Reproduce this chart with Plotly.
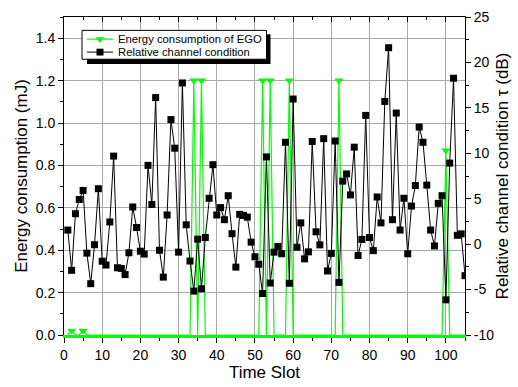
import plotly.graph_objects as go

# ---------------- data ----------------
slots = list(range(1, 106))

# Energy consumption of EGO (mJ), left axis
energy = [
    0, 0.02, 0, 0, 0.02, 0, 0, 0, 0, 0,            # 1-10
    0, 0, 0, 0, 0, 0, 0, 0, 0, 0,                  # 11-20
    0, 0, 0, 0, 0, 0, 0, 0, 0, 0,                  # 21-30
    0, 0, 0, 1.2, 0, 1.2, 0, 0, 0, 0,              # 31-40
    0, 0, 0, 0, 0, 0, 0, 0, 0, 0,                  # 41-50
    0, 1.2, 0, 1.2, 0, 0, 0, 0, 1.2, 0,            # 51-60
    0, 0, 0, 0, 0, 0, 0, 0, 0, 0,                  # 61-70
    0, 1.2, 0, 0, 0, 0, 0, 0, 0, 0,                # 71-80
    0, 0, 0, 0, 0, 0, 0, 0, 0, 0,                  # 81-90
    0, 0, 0, 0, 0, 0, 0, 0, 0, 0.87,               # 91-100
    0, 0, 0, 0, 0,                                 # 101-105
]
# slots where the EGO series shows its triangle markers
energy_marker_slots = [2, 5, 34, 36, 52, 54, 59, 72, 100]

# Relative channel condition tau (dB), right axis
channel_db = [
    1.55, -2.88, 3.35, 4.91, 5.91, -0.99, -4.35, -0.06, 6.10, -1.88,     # 1-10
    -2.30, 2.44, 9.69, -2.60, -2.67, -3.35, -0.95, 4.09, 1.83, -0.78,    # 11-20
    -1.09, 8.67, 4.37, 16.13, -0.67, -3.63, 3.21, 13.71, 10.56, -0.88,   # 21-30
    17.74, 2.13, -1.86, -5.17, 0.55, -4.91, 0.73, 5.05, 8.74, 3.21,      # 31-40
    4.02, 2.69, 5.33, 1.15, -2.53, 3.28, 3.16, 2.97, 0.22, -1.39,        # 41-50
    -2.21, -5.43, 9.60, -4.28, -0.88, -0.25, -1.06, 11.21, -4.31, 15.97, # 51-60
    -0.34, 2.34, -1.62, -0.85, 11.30, 1.36, -0.08, 11.61, -2.95, -1.02,  # 61-70
    11.35, -4.21, 6.94, 7.73, 5.42, 10.67, -1.25, 0.52, 14.17, 0.73,     # 71-80
    -0.71, 5.19, 2.34, 15.71, 21.62, 2.69, 14.43, 1.55, 5.05, -1.06,     # 81-90
    4.19, 6.45, 12.89, 11.21, 6.50, 1.55, -0.20, 4.49, 5.33, -6.13,      # 91-100
    8.92, 18.26, 0.97, 1.13, -3.47,                                      # 101-105
]

x_ticks = [0, 10, 20, 30, 40, 50, 60, 70, 80, 90, 100]
left_ticks = [0.0, 0.2, 0.4, 0.6, 0.8, 1.0, 1.2, 1.4]
left_tick_labels = ["0.0", "0.2", "0.4", "0.6", "0.8", "1.0", "1.2", "1.4"]
right_ticks = [-10, -5, 0, 5, 10, 15, 20, 25]
right_tick_labels = ["-10", "-5", "0", "5", "10", "15", "20", "25"]

legend_energy = "Energy consumption of EGO"
legend_channel = "Relative channel condition"

# ---------------- style ----------------
GREEN = "#00ff00"
FONT = "Liberation Sans, Arial, sans-serif"
W, H = 518, 387
ML, MR, MT, MB = 64, 53, 9, 52
PW, PH = W - ML - MR, H - MT - MB
TRI_SIZE = 8
SQ_SIZE = 7

def px2paper(px, py):
    return (px - ML) / PW, (H - MB - py) / PH

energy_by_slot = dict(zip(slots, energy))
marker_y = [energy_by_slot[s] for s in energy_marker_slots]

fig = go.Figure()

# EGO energy line
fig.add_trace(go.Scatter(
    x=slots, y=energy, mode="lines", yaxis="y",
    line=dict(color=GREEN, width=1.2), showlegend=False, hoverinfo="skip"))
# EGO markers
fig.add_trace(go.Scatter(
    x=energy_marker_slots, y=marker_y, mode="markers", yaxis="y",
    marker=dict(symbol="triangle-down", size=TRI_SIZE, color=GREEN,
                line=dict(width=0)),
    showlegend=False, cliponaxis=False, name=legend_energy))
# channel condition
fig.add_trace(go.Scatter(
    x=slots, y=channel_db, mode="lines+markers", yaxis="y2",
    line=dict(color="black", width=1),
    marker=dict(symbol="square", size=SQ_SIZE, color="black", line=dict(width=0)),
    name=legend_channel, showlegend=False))
# dummy for the top axis
fig.add_trace(go.Scatter(x=[None], y=[None], xaxis="x2", yaxis="y",
                         showlegend=False, hoverinfo="skip"))

tickfont = dict(family=FONT, size=14, color="black")
titlefont = dict(family=FONT, size=17, color="black")

# ---------------- legend (Origin style box with drop shadow) ----------------
def rect(x0p, y0p, x1p, y1p, **kw):
    a, b = px2paper(x0p, y0p)
    c, d = px2paper(x1p, y1p)
    fig.add_shape(type="rect", xref="paper", yref="paper",
                  x0=a, x1=c, y0=d, y1=b, layer="above", **kw)

rect(87, 26.7, 270.5, 57.3, fillcolor="black", line=dict(width=0))
rect(82, 22.7, 266.5, 52.3, fillcolor="white", line=dict(color="black", width=1))

rows = [
    (31.7, GREEN, "tri", legend_energy, 1.2),
    (45.0, "black", "sq", legend_channel, 1.0),
]
for ry, col, sym, label, lw in rows:
    a, b = px2paper(87, ry)
    c, _ = px2paper(113, ry)
    fig.add_shape(type="line", xref="paper", yref="paper", x0=a, x1=c, y0=b, y1=b,
                  line=dict(color=col, width=lw), layer="above")
    cx = 100
    if sym == "tri":
        r = TRI_SIZE / 2
        rt = r * 2 / 3 ** 0.5
        pts = [(cx - rt, ry - r / 2), (cx + rt, ry - r / 2), (cx, ry + r)]
    else:
        h = SQ_SIZE / 2
        pts = [(cx - h, ry - h), (cx + h, ry - h), (cx + h, ry + h), (cx - h, ry + h)]
    path = "M " + " L ".join("%.5f,%.5f" % px2paper(px, py) for px, py in pts) + " Z"
    fig.add_shape(type="path", xref="paper", yref="paper", path=path,
                  fillcolor=col, line=dict(width=0), layer="above")
    tx, ty = px2paper(116, ry)
    fig.add_annotation(xref="paper", yref="paper", x=tx, y=ty, text=label,
                       showarrow=False, xanchor="left", yanchor="middle",
                       font=dict(family=FONT, size=11.3, color="black"))

fig.update_layout(
    width=W, height=H,
    margin=dict(l=ML, r=MR, t=MT, b=MB, pad=0),
    paper_bgcolor="white", plot_bgcolor="white",
    font=dict(family=FONT, color="black"),
    showlegend=False,
    xaxis=dict(
        range=[0, 105], tickvals=x_ticks, ticks="outside", ticklen=5,
        tickwidth=1, tickcolor="black", tickfont=tickfont,
        showline=True, linecolor=GREEN, linewidth=2.5,
        showgrid=True, gridcolor="#a8a8a8", gridwidth=1, zeroline=False,
        minor=dict(dtick=5, tick0=0, ticks="outside", ticklen=3,
                   tickcolor="black", showgrid=False),
        title=dict(text="Time Slot", font=titlefont, standoff=4),
    ),
    xaxis2=dict(
        range=[0, 105], overlaying="x", side="top", tickvals=x_ticks,
        ticks="inside", ticklen=5, tickcolor="black", showticklabels=False,
        showline=True, linecolor="black", linewidth=1, showgrid=False,
        zeroline=False,
        minor=dict(dtick=5, tick0=0, ticks="inside", ticklen=3,
                   tickcolor="black", showgrid=False),
    ),
    yaxis=dict(
        range=[0, 1.5], tickvals=left_ticks, ticktext=left_tick_labels,
        ticks="outside", ticklen=5, tickcolor="black", tickfont=tickfont,
        showline=True, linecolor="black", linewidth=1,
        showgrid=True, gridcolor="#a8a8a8", gridwidth=1, zeroline=False,
        minor=dict(dtick=0.1, tick0=0, ticks="outside", ticklen=3,
                   tickcolor="black", showgrid=False),
        title=dict(text="Energy consumption (mJ)", font=titlefont, standoff=3),
    ),
    yaxis2=dict(
        range=[-10, 25], overlaying="y", side="right",
        tickvals=right_ticks, ticktext=right_tick_labels,
        ticks="outside", ticklen=5, tickcolor="black", tickfont=tickfont,
        showline=True, linecolor="black", linewidth=1,
        showgrid=False, zeroline=False,
        minor=dict(dtick=2.5, tick0=0, ticks="outside", ticklen=3,
                   tickcolor="black", showgrid=False),
        title=dict(text="Relative channel condition \u03c4 (dB)", font=titlefont,
                   standoff=2),
    ),
)

fig.write_html("out.html", config={"displayModeBar": False},
               post_script="document.body.style.margin='0';")
